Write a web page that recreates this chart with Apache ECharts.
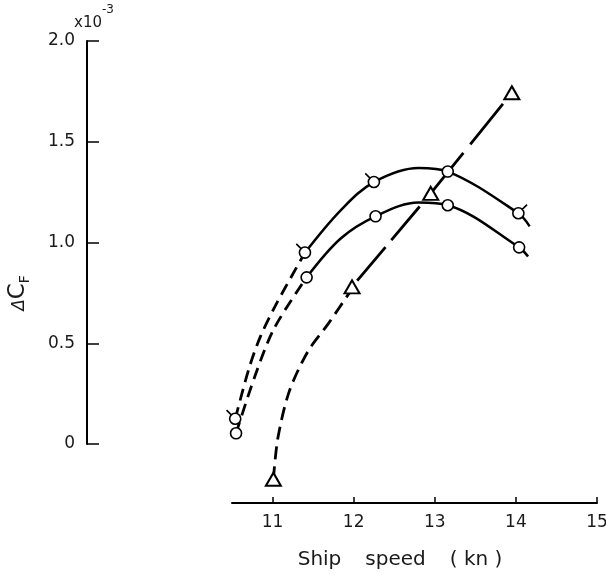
<!DOCTYPE html>
<html>
<head>
<meta charset="utf-8">
<script src="https://cdn.jsdelivr.net/npm/echarts@6/dist/echarts.min.js"></script>
<style>
  html, body { margin: 0; padding: 0; background: #fff; }
  #chart { width: 606px; height: 575px; }
</style>
</head>
<body>
<div id="chart"></div>
<script>
// Friction correction ΔC_F (×10^-3) against ship speed (kn)

// Measured points: flagged circles
const upperSpeed = [10.54, 11.40, 12.25, 13.16, 14.03];
const upperDCF   = [0.125, 0.95, 1.30, 1.352, 1.145];
// Measured points: plain circles
const lowerSpeed = [10.55, 11.42, 12.27, 13.16, 14.04];
const lowerDCF   = [0.053, 0.827, 1.13, 1.185, 0.976];
// Measured points: triangles
const triSpeed = [11.01, 11.98, 12.95, 13.95];
const triDCF   = [-0.175, 0.78, 1.244, 1.743];

// Faired curves through the points (dashed = extrapolated part)
const upperDashSpeed = [10.54, 10.71, 10.85, 11.05, 11.40];
const upperDashDCF   = [0.125, 0.376, 0.533, 0.698, 0.95];
const upperFairSpeed = [11.40, 11.84, 12.25, 12.80, 13.16, 14.03, 14.17];
const upperFairDCF   = [0.95, 1.16, 1.30, 1.37, 1.352, 1.145, 1.08];

const lowerDashSpeed = [10.55, 10.78, 11.02, 11.42];
const lowerDashDCF   = [0.053, 0.334, 0.574, 0.827];
const lowerFairSpeed = [11.42, 11.84, 12.27, 12.80, 13.16, 14.04, 14.15];
const lowerFairDCF   = [0.827, 1.02, 1.13, 1.198, 1.185, 0.976, 0.93];

const triLowSpeed  = [11.01, 11.065, 11.205, 11.434, 11.685, 11.98];
const triLowDCF    = [-0.175, 0.028, 0.26, 0.458, 0.596, 0.77];
const triHighSpeed = [11.98, 12.95, 13.95];
const triHighDCF   = [0.78, 1.244, 1.743];

// Tick values and labels
const xTicks = [11, 12, 13, 14, 15];
const xTickLabels = ['11', '12', '13', '14', '15'];
const yTickLabels = ['0', '0.5', '1.0', '1.5', '2.0'];

const pair = (xs, ys) => xs.map((x, i) => [x, ys[i]]);

const FONT = 'DejaVu Sans, Verdana, sans-serif';
const INK = '#1a1a1a';

// circle with a short flag stroke (left or right)
const CIRCLE = 'M0,-5A5,5 0 1 1 0,5A5,5 0 1 1 0,-5Z';
const FLAG_L = 'path://' + CIRCLE + 'M-3.5,-3.5L-7.8,-7.8';
const FLAG_R = 'path://' + CIRCLE + 'M3.5,-3.5L7.8,-7.8';
const flagSide = ['L', 'L', 'L', 'N', 'R'];

const upperItems = pair(upperSpeed, upperDCF).map((v, i) => {
  const s = flagSide[i];
  if (s === 'L') return { value: v, symbol: FLAG_L, symbolSize: 14.2, symbolOffset: [-1.6, -1.6] };
  if (s === 'R') return { value: v, symbol: FLAG_R, symbolSize: 14.2, symbolOffset: [1.6, -1.6] };
  return { value: v, symbol: 'path://' + CIRCLE, symbolSize: 11 };
});

function curve(data, dash, smooth, dashOffset) {
  return {
    type: 'line',
    xAxisIndex: 1, yAxisIndex: 1,
    data: data,
    showSymbol: false,
    smooth: smooth,
    silent: true,
    lineStyle: {
      color: '#000', width: dash ? 2.8 : 2.5, type: dash || 'solid',
      dashOffset: dashOffset || 0, cap: 'butt'
    },
    z: 2
  };
}

const triHigh = pair(triHighSpeed, triHighDCF);

const chart = echarts.init(document.getElementById('chart'), null, { renderer: 'canvas' });

chart.setOption({
  animation: false,
  backgroundColor: '#fff',
  grid: [
    { left: 87, top: 41, width: 1, height: 403, outerBoundsMode: 'none' },
    { left: 232, top: 41, width: 365, height: 462, outerBoundsMode: 'none' }
  ],
  xAxis: [
    { gridIndex: 0, type: 'value', min: 0, max: 1, show: false },
    {
      gridIndex: 1, type: 'value', min: 10.5, max: 15,
      axisLine: { show: true, onZero: false, lineStyle: { color: '#000', width: 2 } },
      axisTick: { show: true, inside: true, length: 6, customValues: xTicks, lineStyle: { color: '#000', width: 1.5 } },
      axisLabel: {
        customValues: xTicks,
        formatter: v => xTickLabels[xTicks.indexOf(Math.round(v))],
        color: INK, fontFamily: FONT, fontSize: 17, margin: 11
      },
      splitLine: { show: false },
      name: '{w|Ship}{w|speed}{w|( kn )}',
      nameLocation: 'middle',
      nameGap: 47,
      nameTextStyle: {
        padding: [0, 29, 0, 0],
        rich: { w: { fontFamily: FONT, fontSize: 20, color: INK, padding: [0, 12, 0, 12] } }
      }
    }
  ],
  yAxis: [
    {
      gridIndex: 0, type: 'value', min: 0, max: 2, interval: 0.5,
      axisLine: { show: true, lineStyle: { color: '#000', width: 2 } },
      axisTick: { show: true, inside: true, length: 12, lineStyle: { color: '#000', width: 1.5 } },
      axisLabel: {
        formatter: v => yTickLabels[Math.round(v / 0.5)],
        color: INK, fontFamily: FONT, fontSize: 17, margin: 12
      },
      splitLine: { show: false },
      name: '{d|Δ}{c|C}{f|F}',
      nameLocation: 'middle',
      nameRotate: 90,
      nameGap: 55,
      nameTextStyle: {
        padding: [0, 101, 0, 0],
        rich: {
          d: { fontFamily: FONT, fontSize: 17, fontStyle: 'italic', color: INK },
          c: { fontFamily: FONT, fontSize: 23, color: INK, padding: [0, 0, 2, 0] },
          f: { fontFamily: FONT, fontSize: 14, color: INK, verticalAlign: 'bottom' }
        }
      }
    },
    {
      gridIndex: 1, type: 'value', min: -0.2928, max: 2,
      offset: 145,
      axisLine: { show: false, onZero: false }, axisTick: { show: false }, axisLabel: { show: false },
      splitLine: { show: false },
      name: '{a|x10}{b|-3}',
      nameLocation: 'end',
      nameGap: 21,
      nameTextStyle: {
        padding: [0, 0, 0, 14],
        rich: {
          a: { fontFamily: FONT, fontSize: 15, lineHeight: 16, color: INK, padding: [22, 0, 0, 0] },
          b: { fontFamily: FONT, fontSize: 12, lineHeight: 12, color: INK, verticalAlign: 'top' }
        }
      }
    }
  ],
  series: [
    curve(pair(upperDashSpeed, upperDashDCF), [12, 7], 0.3),
    curve(pair(upperFairSpeed, upperFairDCF), null, 0.35),
    curve(pair(lowerDashSpeed, lowerDashDCF), [12, 7], 0.3),
    curve(pair(lowerFairSpeed, lowerFairDCF), null, 0.35),
    curve(pair(triLowSpeed, triLowDCF), [13, 7], 0.3),
    curve(triHigh.slice(0, 2), [44, 9], 0, 45),
    curve(triHigh.slice(1, 3), [52, 11], 0, 0),
    {
      type: 'scatter', xAxisIndex: 1, yAxisIndex: 1,
      data: upperItems,
      itemStyle: { color: '#fff', borderColor: '#000', borderWidth: 1.6, opacity: 1 },
      z: 5
    },
    {
      type: 'scatter', xAxisIndex: 1, yAxisIndex: 1,
      data: pair(lowerSpeed, lowerDCF),
      symbol: 'path://' + CIRCLE, symbolSize: 11,
      itemStyle: { color: '#fff', borderColor: '#000', borderWidth: 1.6, opacity: 1 },
      z: 5
    },
    {
      type: 'scatter', xAxisIndex: 1, yAxisIndex: 1,
      data: pair(triSpeed, triDCF),
      symbol: 'emptyTriangle', symbolSize: [15, 13],
      itemStyle: { color: '#000', borderWidth: 1.6, opacity: 1 },
      z: 5
    }
  ]
});
</script>
</body>
</html>
